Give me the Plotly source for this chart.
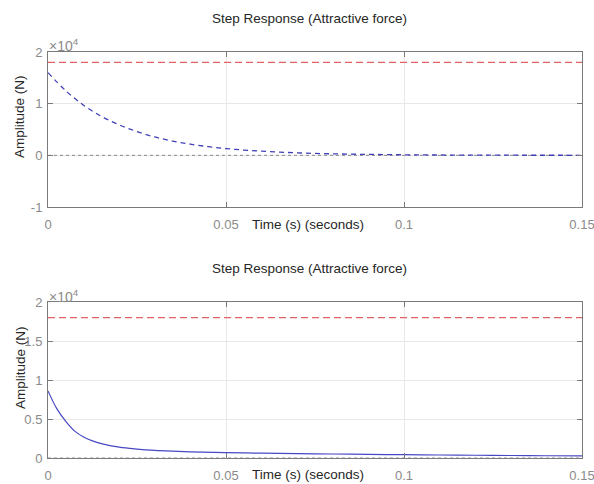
import plotly.graph_objects as go

# ---- data ----
t_top = [0, 0.005, 0.01, 0.015, 0.02, 0.025, 0.03, 0.035, 0.04, 0.045, 0.05,
         0.055, 0.06, 0.065, 0.07, 0.075, 0.08, 0.085, 0.09, 0.095, 0.1,
         0.105, 0.11, 0.115, 0.12, 0.125, 0.13, 0.135, 0.14, 0.145, 0.15]
f_top = [16000, 12500, 9700, 7550, 5900, 4600, 3550, 2770, 2160, 1690, 1310,
         1020, 800, 620, 480, 375, 290, 230, 180, 140, 110,
         85, 65, 50, 40, 30, 25, 20, 15, 12, 9]

t_bot = [0, 0.0025, 0.005, 0.0075, 0.01, 0.0125, 0.015, 0.02, 0.025, 0.03,
         0.035, 0.04, 0.05, 0.06, 0.07, 0.08, 0.09, 0.1, 0.11, 0.12, 0.13,
         0.14, 0.15]
f_bot = [8600, 6300, 4700, 3450, 2700, 2200, 1850, 1400, 1150, 980,
         870, 790, 690, 620, 560, 510, 460, 420, 385, 350, 320,
         290, 260]

t_span = [0, 0.15]
steady = [18000, 18000]
zero = [0, 0]

x_ticks = [0, 0.05, 0.1, 0.15]
x_ticktext = ["0", "0.05", "0.1", "0.15"]
y_ticks_top = [-10000, 0, 10000, 20000]
y_ticktext_top = ["-1", "0", "1", "2"]
y_ticks_bot = [0, 5000, 10000, 15000, 20000]
y_ticktext_bot = ["0", "0.5", "1", "1.5", "2"]

title_text = "Step Response (Attractive force)"
xlabel = "Time (s) (seconds)"
ylabel = "Amplitude (N)"

FONT = "Liberation Sans, Arial, Helvetica, sans-serif"
RED = "#e06262"
BLUE = "#4040b8"
BLUE2 = "#4848c4"
GRAY = "#8a8a8a"

fig = go.Figure()

# top subplot
fig.add_trace(go.Scatter(x=t_span, y=zero, mode="lines", xaxis="x", yaxis="y",
                         line=dict(color=GRAY, width=1, dash="dot"), hoverinfo="skip"))
fig.add_trace(go.Scatter(x=t_span, y=steady, mode="lines", xaxis="x", yaxis="y",
                         line=dict(color=RED, width=1.2, dash="7px,4px")))
fig.add_trace(go.Scatter(x=t_top, y=f_top, mode="lines", xaxis="x", yaxis="y",
                         line=dict(color=BLUE, width=1.3, dash="5px,4px", shape="spline")))

# bottom subplot
fig.add_trace(go.Scatter(x=t_span, y=zero, mode="lines", xaxis="x2", yaxis="y2",
                         line=dict(color=GRAY, width=1, dash="dot"), hoverinfo="skip"))
fig.add_trace(go.Scatter(x=t_span, y=steady, mode="lines", xaxis="x2", yaxis="y2",
                         line=dict(color=RED, width=1.2, dash="7px,4px")))
fig.add_trace(go.Scatter(x=t_bot, y=f_bot, mode="lines", xaxis="x2", yaxis="y2",
                         line=dict(color=BLUE2, width=1.2, shape="spline")))

W, H = 594, 484
ML, MR, MT, MB = 48, 12, 52, 26
ph = H - MT - MB
top_dom = [(H - MB - 207) / ph, 1.0]
bot_dom = [0.0, (H - MB - 302) / ph]

def xax(anchor):
    return dict(domain=[0, 1], anchor=anchor, range=[0, 0.15],
                tickvals=x_ticks, ticktext=x_ticktext,
                showgrid=True, gridcolor="#e8e8e8", gridwidth=1,
                zeroline=False, showline=True, linecolor="#7a7a7a", linewidth=1,
                mirror="allticks", ticks="inside", ticklen=5, tickcolor="#7a7a7a",
                tickfont=dict(family=FONT, size=13, color="#8a8a8a"),
                ticklabelstandoff=5, ticklabeloverflow="allow", automargin=False)

def yax(anchor, dom, rng, tv, tt):
    return dict(domain=dom, anchor=anchor, range=rng,
                tickvals=tv, ticktext=tt,
                showgrid=True, gridcolor="#e8e8e8", gridwidth=1,
                zeroline=False, showline=True, linecolor="#7a7a7a", linewidth=1,
                mirror="allticks", ticks="inside", ticklen=5, tickcolor="#7a7a7a",
                tickfont=dict(family=FONT, size=13, color="#8a8a8a"),
                ticklabelstandoff=2, ticklabeloverflow="allow", automargin=False)

def py(ypx):
    return (H - MB - ypx) / ph

def px(xpx):
    return (xpx - ML) / (W - ML - MR)

annotations = []
for ty, ly, ey, xly in [(18, 117, 45, 224), (268, 368, 296, 474)]:
    common = dict(xref="paper", yref="paper", showarrow=False,
                  xanchor="center", yanchor="middle")
    annotations.append(dict(text=title_text, x=px(309), y=py(ty),
                            font=dict(family=FONT, size=13.5, color="#262626"), **common))
    annotations.append(dict(text=ylabel, x=px(20), y=py(ly), textangle=-90,
                            font=dict(family=FONT, size=13.5, color="#262626"), **common))
    annotations.append(dict(text="×10<sup>4</sup>", x=px(64), y=py(ey),
                            font=dict(family=FONT, size=14, color="#8a8a8a"), **common))
    annotations.append(dict(text=xlabel, x=px(308), y=py(xly),
                            font=dict(family=FONT, size=13.5, color="#262626"), **common))

fig.update_layout(
    width=W, height=H,
    margin=dict(l=ML, r=MR, t=MT, b=MB, autoexpand=False),
    paper_bgcolor="white", plot_bgcolor="white",
    showlegend=False,
    xaxis=xax("y"),
    yaxis=yax("x", top_dom, [-10000, 20000], y_ticks_top, y_ticktext_top),
    xaxis2=xax("y2"),
    yaxis2=yax("x2", bot_dom, [0, 20000], y_ticks_bot, y_ticktext_bot),
    annotations=annotations,
)

fig.write_html("out.html", config={"displayModeBar": False},
               post_script="document.body.style.margin='0';document.body.style.overflow='hidden';")
